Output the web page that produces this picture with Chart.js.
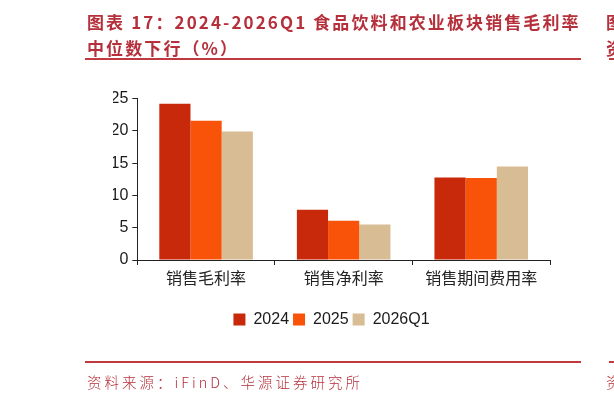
<!DOCTYPE html>
<html>
<head>
<meta charset="utf-8">
<script src="https://cdn.jsdelivr.net/npm/chart.js@4.4.1/dist/chart.umd.min.js"></script>
<style>
  html, body { margin: 0; padding: 0; background: #fff; }
  #wrap { position: relative; width: 614px; height: 401px; overflow: hidden; }
  #chart-canvas { position: absolute; left: 0; top: 0; }
  .title {
    position: absolute; left: 87px; white-space: nowrap;
    font-family: "Noto Sans CJK SC", sans-serif; font-weight: 700;
    font-size: 17px; line-height: 26px; letter-spacing: 2.1px; color: #b5303a;
  }
  .rule { position: absolute; height: 2px; background: #c0393f; }
  .source {
    position: absolute; left: 87px; top: 370px; white-space: nowrap;
    font-family: "Noto Sans CJK SC", sans-serif; font-weight: 300;
    font-size: 14.5px; line-height: 24px; letter-spacing: 3px; color: #b5303a;
  }
</style>
</head>
<body>
<div id="wrap">
  <canvas id="chart-canvas" width="614" height="401"></canvas>
  <div class="title" style="top:9px">图表 17：2024-2026Q1 食品饮料和农业板块销售毛利率</div>
  <div class="title" style="top:35px">中位数下行（%）</div>
  <div class="rule" style="left:85px; width:496px; top:58px"></div>
  <div class="rule" style="left:85px; width:496px; top:361px"></div>
  <div class="title" style="top:9px; left:606px">图表</div>
  <div class="title" style="top:35px; left:606px">资产</div>
  <div class="rule" style="left:609px; width:10px; top:58px"></div>
  <div class="rule" style="left:609px; width:10px; top:361px"></div>
  <div class="source">资料来源：iFinD、华源证券研究所</div>
  <div class="source" style="left:606px">资料</div>
</div>
<script>
var categories = ['销售毛利率', '销售净利率', '销售期间费用率'];
var series_names = ['2024', '2025', '2026Q1'];
var values_2024 = [24.2, 7.8, 12.8];
var values_2025 = [21.6, 6.1, 12.7];
var values_2026q1 = [19.9, 5.5, 14.5];
var y_ticks = [0, 5, 10, 15, 20, 25];

var bar_colors = ['#c8290a', '#f85309', '#d7bc94'];
var axis_color = '#222222';
var font_family = '"Liberation Sans", "Noto Sans CJK SC", Arial, sans-serif';

var series_values = [values_2024, values_2025, values_2026q1];
var datasets = [];
for (var i = 0; i < series_names.length; i++) {
    datasets.push({
        label: series_names[i],
        data: series_values[i],
        backgroundColor: bar_colors[i],
        borderWidth: 0,
        barPercentage: 1,
        categoryPercentage: 0.68
    });
}

var ctx = document.getElementById('chart-canvas');
var MarginChart = new Chart(ctx, {
    type: 'bar',
    data: {
        labels: categories,
        datasets: datasets
    },
    options: {
        responsive: false,
        animation: false,
        events: [],
        layout: {
            padding: { left: 113, right: 64, top: 98.7, bottom: 63.5 }
        },
        plugins: {
            tooltip: { enabled: false },
            legend: {
                position: 'bottom',
                labels: {
                    boxWidth: 12,
                    boxHeight: 12,
                    padding: 4,
                    color: '#1a1a1a',
                    font: { family: font_family, size: 16 }
                }
            }
        },
        scales: {
            x: {
                offset: true,
                grid: {
                    offset: true,
                    drawOnChartArea: false,
                    tickLength: 5,
                    color: axis_color
                },
                border: { color: axis_color, width: 1 },
                ticks: {
                    padding: 5,
                    color: '#222',
                    font: { family: font_family, size: 16 }
                },
                afterFit: function (scale) {
                    scale.height = 47.5;
                }
            },
            y: {
                min: 0,
                max: 25,
                afterBuildTicks: function (scale) {
                    scale.ticks = y_ticks.map(function (v) { return { value: v }; });
                },
                grid: {
                    drawOnChartArea: false,
                    tickLength: 5,
                    color: axis_color
                },
                border: { color: axis_color, width: 1 },
                ticks: {
                    padding: 4,
                    color: '#1a1a1a',
                    font: { family: font_family, size: 16 }
                },
                afterFit: function (scale) {
                    scale.width = 24.3;
                }
            }
        }
    }
});
</script>
</body>
</html>
